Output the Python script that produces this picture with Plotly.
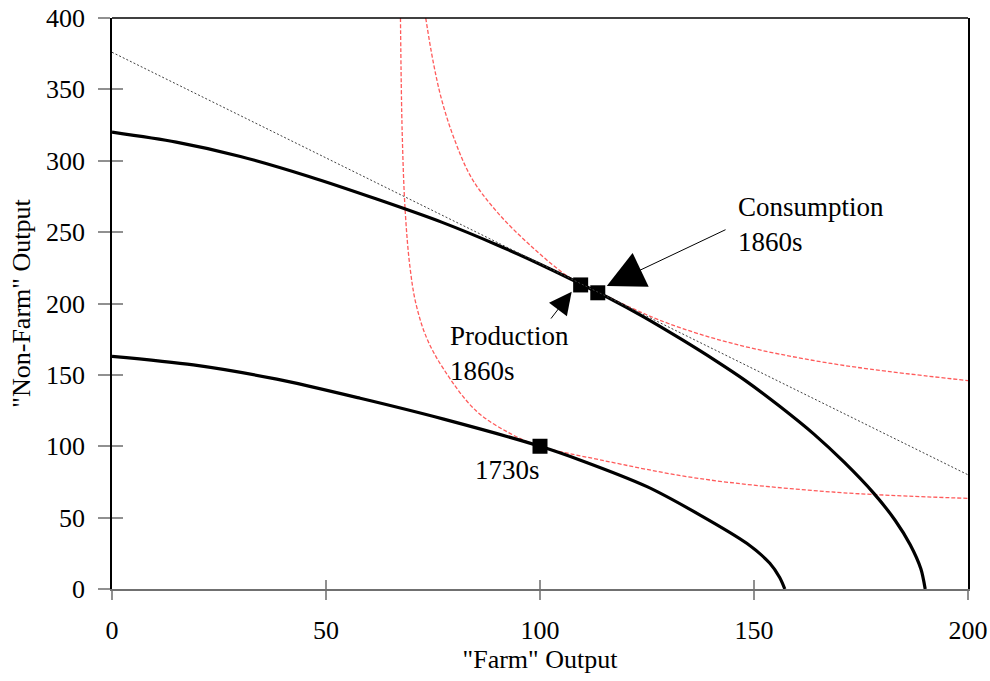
import plotly.graph_objects as go

# --- data ---
ppf_1860_x = [0, 15, 30, 46, 62, 77, 90, 100, 110, 116, 124, 133, 141, 148, 156, 164, 171, 178, 183, 186.5, 189, 190]
ppf_1860_y = [320, 313, 303, 289, 273, 257, 241, 227.5, 213, 204, 191, 175, 160, 146, 128, 108.5, 89, 67, 48, 31, 14, 0]

ppf_1730_x = [0, 19, 38.5, 58, 77.5, 100, 109.3, 125, 137.4, 148.3, 153.7, 156, 157.2]
ppf_1730_y = [163, 157, 147, 133.6, 119, 100, 90.4, 71.7, 51.8, 32, 18, 8, 0]

price_x = [0, 200]
price_y = [376, 80]

ic_1860_x = [73.3, 75, 77, 80, 84, 90, 98, 107, 114, 122, 130, 145, 168, 200]
ic_1860_y = [400, 370, 343, 315, 288, 264, 240, 218, 207.5, 196, 186, 172, 158, 146]

ic_1730_x = [67.4, 67.8, 68.5, 69.6, 71, 73.5, 77.5, 85, 93, 100, 114, 137, 168, 200]
ic_1730_y = [400, 320, 265, 226, 200, 176, 154, 125, 109, 100, 90.5, 77.5, 68, 63.5]

point_labels = ["Production 1860s", "Consumption 1860s", "1730s"]
point_x = [109.5, 113.5, 100]
point_y = [213, 207.5, 100]

x_ticks = [0, 50, 100, 150, 200]
y_ticks = [0, 50, 100, 150, 200, 250, 300, 350, 400]

FONT = "Liberation Serif, Times New Roman, serif"
RED = "#ff5a5a"
TICK = "#909090"

fig = go.Figure()

fig.add_trace(go.Scatter(x=ic_1860_x, y=ic_1860_y, mode="lines", line_shape="spline",
                         line=dict(color=RED, width=1.3, dash="4px,2px"), hoverinfo="skip"))
fig.add_trace(go.Scatter(x=ic_1730_x, y=ic_1730_y, mode="lines", line_shape="spline",
                         line=dict(color=RED, width=1.3, dash="4px,2px"), hoverinfo="skip"))
# price line drawn on the overlay axes (identical ranges) so the inner tick halves are rendered
fig.add_trace(go.Scatter(x=price_x, y=price_y, mode="lines", xaxis="x2", yaxis="y2",
                         line=dict(color="#404040", width=1, dash="2px,2px"), hoverinfo="skip"))
fig.add_trace(go.Scatter(x=ppf_1860_x, y=ppf_1860_y, mode="lines", line_shape="spline",
                         line=dict(color="black", width=3.2, smoothing=0.8)))
fig.add_trace(go.Scatter(x=ppf_1730_x, y=ppf_1730_y, mode="lines", line_shape="spline",
                         line=dict(color="black", width=3.2, smoothing=0.8)))
fig.add_trace(go.Scatter(x=point_x, y=point_y, mode="markers", text=point_labels,
                         marker=dict(symbol="square", size=15, color="black")))

# arrows (tail -> tip in data coordinates)
fig.add_annotation(x=115.6, y=212.3, ax=143.7, ay=252.2, axref="x", ayref="y", xref="x", yref="y",
                   text="", showarrow=True, arrowhead=2, arrowsize=7.5, arrowwidth=1, arrowcolor="black")
fig.add_annotation(x=107.4, y=208.3, ax=102.3, ay=188.4, axref="x", ayref="y", xref="x", yref="y",
                   text="", showarrow=True, arrowhead=2, arrowsize=4.5, arrowwidth=1, arrowcolor="black")

# labels
fig.add_annotation(x=145.8, y=255.6, xref="x", yref="y", text="Consumption<br>1860s",
                   showarrow=False, xanchor="left", yanchor="middle", align="left",
                   font=dict(family=FONT, size=27, color="black"))
fig.add_annotation(x=78.5, y=165.3, xref="x", yref="y", text="Production<br>1860s",
                   showarrow=False, xanchor="left", yanchor="middle", align="left",
                   font=dict(family=FONT, size=27, color="black"))
fig.add_annotation(x=92.4, y=83.4, xref="x", yref="y", text="1730s",
                   showarrow=False, xanchor="center", yanchor="middle",
                   font=dict(family=FONT, size=27, color="black"))

# top border of the frame
fig.add_shape(type="line", xref="paper", yref="paper", x0=0, x1=1, y0=1, y1=1,
              line=dict(color="black", width=1.5))

fig.update_layout(
    width=990, height=681,
    margin=dict(l=112, r=22, t=18, b=92, autoexpand=False),
    paper_bgcolor="white", plot_bgcolor="white",
    showlegend=False,
    font=dict(family=FONT, size=26, color="black"),
    xaxis=dict(range=[0, 200], tickvals=x_ticks, showgrid=False, zeroline=False,
               showline=True, linecolor="#707070", linewidth=1.5, automargin=False,
               ticks="outside", ticklen=9, tickcolor=TICK, tickwidth=1.5,
               ticklabelstandoff=8, ticklabeloverflow="allow",
               title=dict(text='"Farm" Output', standoff=2, font=dict(size=26)),
               tickfont=dict(size=26)),
    yaxis=dict(range=[0, 400], tickvals=y_ticks, showgrid=False, zeroline=False,
               showline=True, linecolor="black", linewidth=1.5, mirror=True, automargin=False,
               ticks="outside", ticklen=12, tickcolor=TICK, tickwidth=1.5,
               ticklabelstandoff=8, ticklabeloverflow="allow",
               title=dict(text='"Non-Farm" Output', standoff=8, font=dict(size=26)),
               tickfont=dict(size=26)),
    xaxis2=dict(range=[0, 200], tickvals=x_ticks, overlaying="x", anchor="y2", side="bottom",
                showgrid=False, zeroline=False, showline=False, showticklabels=False, automargin=False,
                ticks="inside", ticklen=9, tickcolor=TICK, tickwidth=1.5),
    yaxis2=dict(range=[0, 400], tickvals=y_ticks, overlaying="y", anchor="x2", side="left",
                showgrid=False, zeroline=False, showline=False, showticklabels=False, automargin=False,
                ticks="inside", ticklen=11, tickcolor=TICK, tickwidth=1.5),
)

# remove the browser's default 8px page margin so the figure fills the window exactly
fig.write_html("out.html",
               config={"displayModeBar": False},
               post_script="document.body.style.margin='0';document.body.style.overflow='hidden';")
